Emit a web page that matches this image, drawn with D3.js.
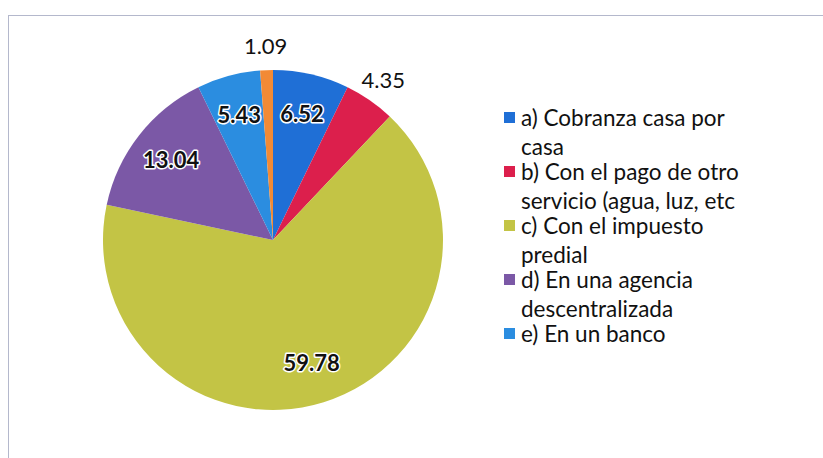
<!DOCTYPE html>
<html>
<head>
<meta charset="utf-8">
<script src="https://cdn.jsdelivr.net/npm/d3@7"></script>
<style>
  html, body { margin: 0; padding: 0; background: #fff; }
  svg { display: block; }
  text { font-family: Lato, "Open Sans", sans-serif; }
</style>
</head>
<body>
<svg id="chart" width="823" height="458"></svg>
<script>
// Forma de pago: shares of each option, drawn clockwise from 12 o'clock
const keys = ["a", "b", "c", "d", "e", "f"];
const values = [6.52, 4.35, 59.78, 13.04, 5.43, 1.09];
const colors = ["#1f6fd6", "#dc1f4c", "#c3c445", "#7b58a6", "#2b8de0", "#f28a35"];
const legendLines = [
  ["a) Cobranza casa por", "casa"],
  ["b) Con el pago de otro", "servicio (agua, luz, etc"],
  ["c) Con el impuesto", "predial"],
  ["d) En una agencia", "descentralizada"],
  ["e) En un banco"]
];

const svg = d3.select("#chart");
const W = 823, H = 458;

// chart frame
svg.append("rect")
  .attr("x", 8.5).attr("y", 15.5)
  .attr("width", W).attr("height", H)
  .attr("fill", "#fff")
  .attr("stroke", "#b4b8cc")
  .attr("stroke-width", 1);

const cx = 273, cy = 240, R = 170;
const color = d3.scaleOrdinal().domain(keys).range(colors);

const pie = d3.pie().sort(null).value(d => d.v).startAngle(0).endAngle(2 * Math.PI);
const data = keys.map((k, i) => ({ k, v: values[i] }));
const arcs = pie(data);
const arc = d3.arc().innerRadius(0).outerRadius(R);

const g = svg.append("g").attr("transform", `translate(${cx},${cy})`);

g.selectAll("path.slice")
  .data(arcs)
  .join("path")
  .attr("class", "slice")
  .attr("d", arc)
  .attr("fill", d => color(d.data.k));

// value labels: small slices get their label outside the pie
const inside = d3.arc().innerRadius(R * 0.76).outerRadius(R * 0.76);
const outside = d3.arc().innerRadius(R * 1.14).outerRadius(R * 1.14);

const labels = g.selectAll("g.lbl")
  .data(arcs)
  .join("g")
  .attr("class", "lbl")
  .attr("transform", d => {
    const p = (d.data.v < 5 ? outside : inside).centroid(d);
    return `translate(${p[0]},${p[1]})`;
  });

labels.filter(d => d.data.v >= 5).append("text")
  .attr("text-anchor", "middle")
  .attr("dy", "0.35em")
  .attr("font-size", 22)
  .attr("font-weight", 700)
  .attr("fill", "none")
  .attr("stroke", "#fff")
  .attr("stroke-width", 3)
  .attr("stroke-linejoin", "round")
  .text(d => d3.format(".2f")(d.data.v));

labels.append("text")
  .attr("text-anchor", "middle")
  .attr("dy", "0.35em")
  .attr("font-size", 22)
  .attr("font-weight", d => d.data.v >= 5 ? 700 : 400)
  .attr("fill", "#111")
  .text(d => d3.format(".2f")(d.data.v));

// legend
let y = 118;
const leg = svg.append("g");
legendLines.forEach((lines, i) => {
  leg.append("rect")
    .attr("x", 504).attr("y", y - 6)
    .attr("width", 11).attr("height", 11)
    .attr("fill", colors[i]);
  lines.forEach((t, j) => {
    leg.append("text")
      .attr("x", 521).attr("y", y + j * 29)
      .attr("dy", "0.35em")
      .attr("font-size", 22.5)
      .attr("fill", "#111")
      .text(t);
  });
  y += (lines.length - 1) * 29 + 25;
});
</script>
</body>
</html>
